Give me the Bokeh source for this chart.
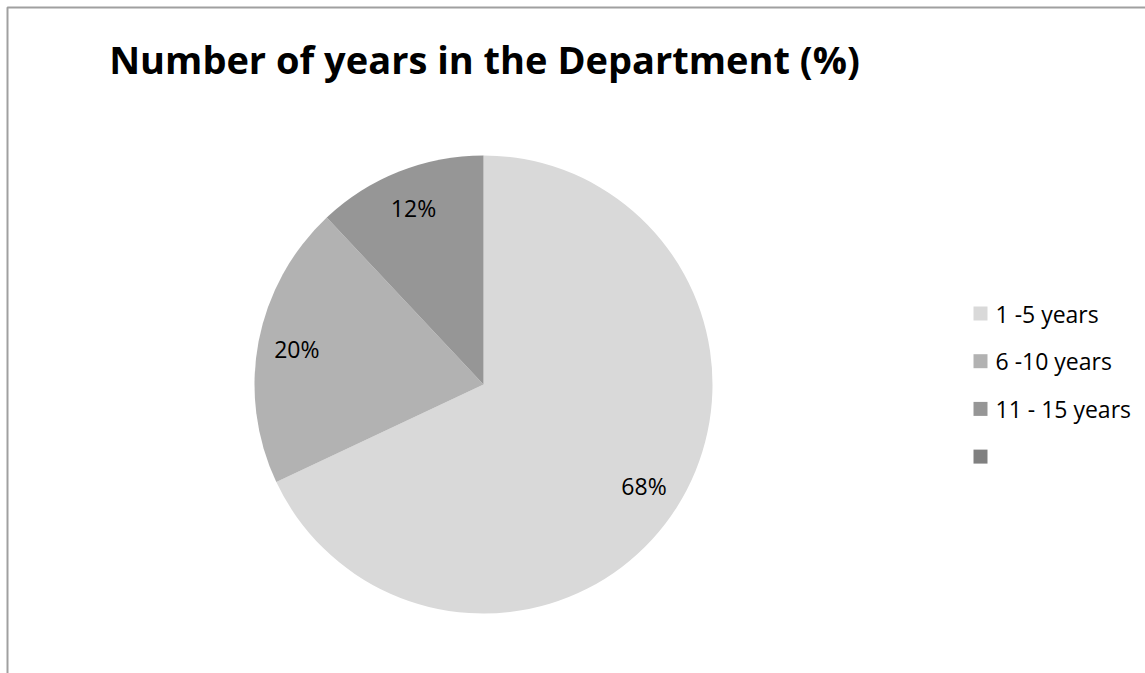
import math
from bokeh.plotting import figure
from bokeh.models import Range1d, ColumnDataSource
from bokeh.core.properties import value
from bokeh.embed import file_html
from bokeh.resources import INLINE

title = "Number of years in the Department (%)"
categories = ["1 -5 years", "6 -10 years", "11 - 15 years", ""]
shares = [68, 20, 12, 0]
colors = ["#D9D9D9", "#B2B2B2", "#969696", "#808080"]

W, H = 1145, 673
p = figure(width=W, height=H, output_backend="svg", toolbar_location=None,
           x_range=Range1d(0, W), y_range=Range1d(0, H), min_border=0)
p.axis.visible = False
p.grid.visible = False
p.outline_line_color = None
p.background_fill_color = "white"
p.border_fill_color = "white"

# chart border (top and left visible)
p.line(x=[7, 7, W + 5], y=[-5, H - 7, H - 7], line_color="#A0A0A0", line_width=2)

cx, cy, r = 483, H - 384, 229
total = sum(shares)
starts, ends, lx, ly, labels, cols = [], [], [], [], [], []
cum = 0.0
for s, c in zip(shares, colors):
    if s == 0:
        continue
    a0 = math.pi / 2 - cum / total * 2 * math.pi
    cum += s
    a1 = math.pi / 2 - cum / total * 2 * math.pi
    starts.append(a0)
    ends.append(a1)
    mid = (a0 + a1) / 2
    lx.append(cx + 0.83 * r * math.cos(mid))
    ly.append(cy + 0.83 * r * math.sin(mid))
    labels.append(f"{s}%")
    cols.append(c)

src = ColumnDataSource(dict(start=starts, end=ends, color=cols))
p.wedge(x=cx, y=cy, radius=r, start_angle="start", end_angle="end",
        direction="clock", fill_color="color", line_color=None, source=src)

p.text(x=lx, y=ly, text=labels, text_align="center", text_baseline="middle",
       text_font=value("Open Sans"), text_font_size="23px", text_color="#000000")

p.text(x=[484], y=[H - 58], text=[title], text_align="center", text_baseline="middle",
       text_font=value("Open Sans"), text_font_style="bold", text_font_size="38px",
       text_color="#000000")

# legend
lgx, lgy0, step = 980, H - 313, 47.7
ys = [lgy0 - i * step for i in range(len(categories))]
p.rect(x=[lgx] * len(categories), y=ys, width=14, height=14,
       fill_color=colors, line_color=None)
p.text(x=[lgx + 15] * len(categories), y=ys, text=categories, text_align="left",
       text_baseline="middle", text_font=value("Open Sans"), text_font_size="23px",
       text_color="#000000")

open("out.html", "w").write(file_html(p, INLINE))
